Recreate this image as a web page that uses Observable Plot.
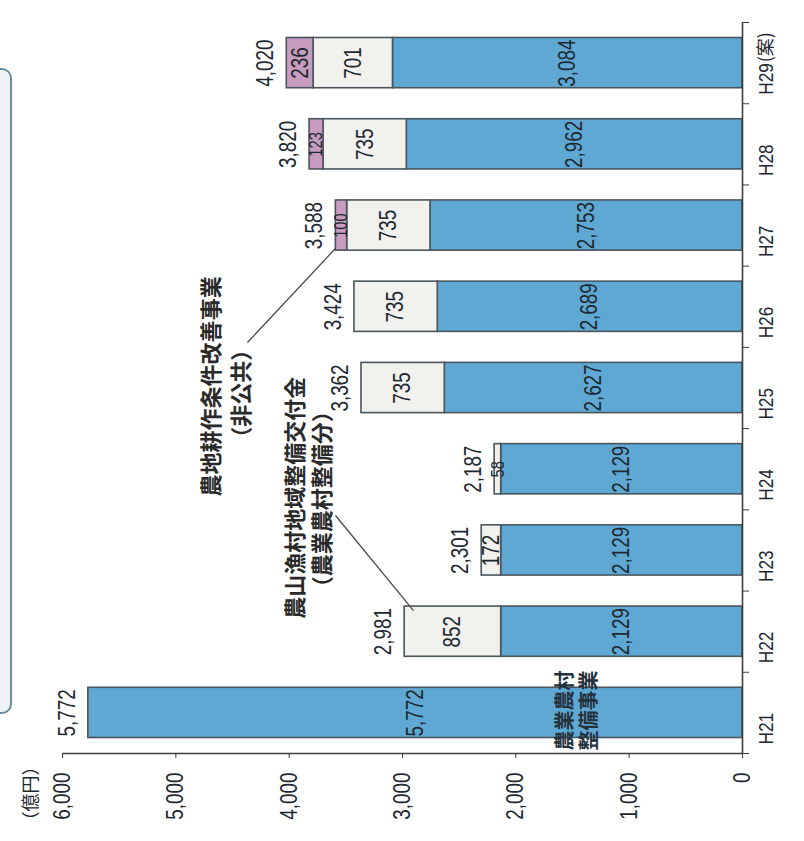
<!DOCTYPE html>
<html>
<head>
<meta charset="utf-8">
<script src="https://cdn.jsdelivr.net/npm/d3@7"></script>
<script src="https://cdn.jsdelivr.net/npm/@observablehq/plot@0.6"></script>
<style>
  body { margin: 0; background: #ffffff; }
  #wrap { position: relative; width: 804px; height: 841px; overflow: hidden; background: #fff; }
  #wrap svg { display: block; position: absolute; left: 0; top: 0; }
  #box { position: absolute; left: -16px; top: 68px; width: 24px; height: 642px; border: 2px solid #6a8aa0; border-radius: 10px; background: #eef4f5; }
</style>
</head>
<body>
<div id="wrap"><div id="box"></div></div>
<script>
// ---- data (values in 億円) ----
const categories = ["H21", "H22", "H23", "H24", "H25", "H26", "H27", "H28", "H29"];
const seriesNames = ["農業農村整備事業", "農山漁村地域整備交付金（農業農村整備分）", "農地耕作条件改善事業（非公共）"];
const seibiJigyo = [5772, 2129, 2129, 2129, 2627, 2689, 2753, 2962, 3084];
const kofukin = [0, 852, 172, 58, 735, 735, 735, 735, 701];
const kosakuJoken = [0, 0, 0, 0, 0, 0, 100, 123, 236];
const totals = [5772, 2981, 2301, 2187, 3362, 3424, 3588, 3820, 4020];
const valueTicks = [0, 1000, 2000, 3000, 4000, 5000, 6000];
const unitLabel = "（億円）";
const draftLabel = "(案)";
// annotation texts (value, category-index position)
const annoTexts = [
  {text: "農地耕作条件改善事業", x: 4677, y: 4.02},
  {text: "（非公共）", x: 4421, y: 3.93},
  {text: "農山漁村地域整備交付金", x: 3944, y: 2.65},
  {text: "（農業農村整備分）", x: 3706, y: 2.63}
];
const barNameTexts = [
  {text: "農業農村", x: 1562, y: 0.03},
  {text: "整備事業", x: 1350, y: 0.03}
];
const leaders = [
  {x1: 4368, y1: 4.56, x2: 3590, y2: 5.72},
  {x1: 3591, y1: 2.43, x2: 2903, y2: 1.26}
];

// ---- derived tables ----
const seriesArrays = [seibiJigyo, kofukin, kosakuJoken];
const segs = [];
categories.forEach((c, i) => {
  let acc = 0;
  seriesArrays.forEach((arr, s) => {
    const v = arr[i];
    if (v > 0) { segs.push({cat: c, i, s, series: seriesNames[s], x1: acc, x2: acc + v, v}); acc += v; }
  });
});
const totalRows = categories.map((c, i) => ({cat: c, i, total: totals[i]}));
const boundaries = categories.map((_, i) => i - 0.5).concat([categories.length - 0.5]);
const fmt = d3.format(",");

const numFont = "'Liberation Sans', Arial, sans-serif";
const cjkFont = "'Noto Sans CJK JP', 'Noto Sans CJK SC', sans-serif";
const ink = "#1e2830";

const chart = Plot.plot({
  width: 804,
  height: 841,
  marginLeft: 62,
  marginRight: 62,
  marginTop: 22,
  marginBottom: 88,
  style: {fontFamily: numFont, fontSize: "23px", color: ink, background: "transparent"},
  x: {domain: [0, 6000], reverse: true},
  y: {domain: [-0.5, categories.length - 0.5]},
  color: {domain: seriesNames, range: ["#5fa8d4", "#f1f1ee", "#c89cc0"]},
  marks: [
    Plot.rectX(segs, {
      x1: "x1", x2: "x2",
      y1: d => d.i - 0.5, y2: d => d.i + 0.5,
      insetTop: 15.5, insetBottom: 15.5,
      fill: "series", stroke: "#4a565e", strokeWidth: 1.6
    }),
    Plot.link(leaders, {x1: "x1", y1: "y1", x2: "x2", y2: "y2", stroke: "#4a4a4a", strokeWidth: 1.3}),
    // segment values
    Plot.text(segs.filter(d => d.v >= 150), {
      x: d => (d.x1 + d.x2) / 2, y: "i", text: d => fmt(d.v),
      rotate: -90, fill: ink, fontSize: 23
    }),
    Plot.text(segs.filter(d => d.v < 150), {
      x: d => (d.x1 + d.x2) / 2, y: "i", text: d => fmt(d.v),
      rotate: -90, fill: ink, fontSize: 18
    }),
    // totals
    Plot.text(totalRows, {x: "total", y: "i", text: d => fmt(d.total), dx: -21, rotate: -90, fill: ink, fontSize: 23}),
    // annotations
    Plot.text(annoTexts, {x: "x", y: "y", text: "text", rotate: -90, fontFamily: cjkFont, fontSize: 22, fontWeight: "bold", fill: "#2a2a2a"}),
    Plot.text(barNameTexts, {x: "x", y: "y", text: "text", rotate: -90, fontFamily: cjkFont, fontSize: 20, fontWeight: "bold", fill: "#24323c"}),
    // axis lines
    Plot.ruleX([0], {stroke: "#3d3d3d", strokeWidth: 1.6}),
    Plot.ruleY([-0.5], {stroke: "#3d3d3d", strokeWidth: 1.6}),
    // value axis
    Plot.axisX(valueTicks, {
      anchor: "bottom", tickSize: 5, tickPadding: 14, tickRotate: -90,
      textAnchor: "end", lineAnchor: "middle",
      tickFormat: fmt, label: null, fontSize: 23, stroke: "#3d3d3d", fill: ink
    }),
    // category axis ticks at band boundaries
    Plot.axisY(boundaries, {anchor: "right", tickSize: 6, tickFormat: () => "", label: null, stroke: "#3d3d3d"}),
    // category labels
    Plot.text(categories, {y: (d, i) => i, text: d => d, frameAnchor: "right", dx: 24, rotate: -90, fill: ink, fontSize: 21}),
    Plot.text([draftLabel], {y: () => categories.length - 1, frameAnchor: "right", dx: 24, dy: -31, rotate: -90, fontFamily: cjkFont, fill: ink, fontSize: 18}),
    // unit label
    Plot.text([unitLabel], {x: () => 6000, frameAnchor: "bottom", dx: -26, dy: 40, rotate: -90, fontFamily: cjkFont, fill: ink, fontSize: 18})
  ]
});
// condense the Latin / numeric labels along their reading direction (narrow typeface look)
chart.querySelectorAll("text").forEach(t => {
  const tr = t.getAttribute("transform");
  if (tr && !/[^\x00-\x7F]/.test(t.textContent)) t.setAttribute("transform", tr + " scale(0.82,1)");
});
document.getElementById("wrap").appendChild(chart);
</script>
</body>
</html>
